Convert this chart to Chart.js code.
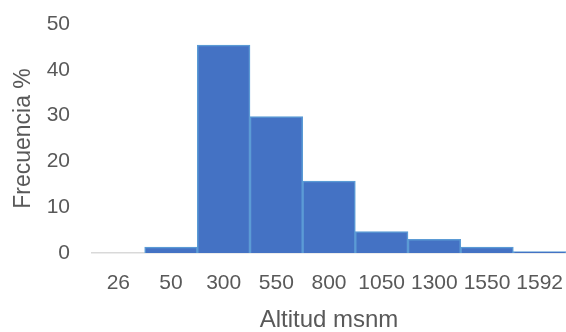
<!DOCTYPE html>
<html>
<head>
<meta charset="utf-8">
<script src="https://cdn.jsdelivr.net/npm/chart.js@4"></script>
<style>
  html, body { margin: 0; padding: 0; background: #ffffff; }
  #wrap { width: 566px; height: 332px; }
</style>
</head>
<body>
<div id="wrap"><canvas id="histChart"></canvas></div>
<script>
// datos
const altitudes = ['26', '50', '300', '550', '800', '1050', '1300', '1550', '1592'];
const frecuencia = [0, 1.3, 45.4, 29.8, 15.7, 4.7, 3.0, 1.3, 0.3];
const yTicks = [0, 10, 20, 30, 40, 50];

const textColor = '#595959';
const fontFamily = "'Liberation Sans', Arial, sans-serif";

document.addEventListener('DOMContentLoaded', function () {
    const ctx = document.getElementById('histChart').getContext('2d');
    new Chart(ctx, {
        type: 'bar',
        data: {
            labels: altitudes,
            datasets: [{
                data: frecuencia,
                backgroundColor: '#4472C4',
                borderColor: '#5B9BD5',
                borderWidth: 1.5,
                borderSkipped: 'bottom',
                barPercentage: 1,
                categoryPercentage: 1
            }]
        },
        options: {
            animation: false,
            responsive: true,
            maintainAspectRatio: false,
            layout: {
                padding: { top: 24, right: 0, left: 0, bottom: 0 }
            },
            plugins: {
                legend: { display: false },
                tooltip: { enabled: false }
            },
            scales: {
                x: {
                    afterFit: function (axis) {
                        axis.height = 79;
                        axis.paddingLeft = 0;
                        axis.paddingRight = 0;
                    },
                    grid: { display: false, drawTicks: false },
                    border: { display: true, color: '#D9D9D9', width: 1.5 },
                    ticks: {
                        color: textColor,
                        font: { family: fontFamily, size: 21 },
                        padding: 18,
                        maxRotation: 0,
                        autoSkip: false
                    },
                    title: {
                        display: true,
                        text: 'Altitud msnm',
                        color: textColor,
                        font: { family: fontFamily, size: 24, lineHeight: 1 },
                        padding: { top: 0, bottom: 0 }
                    }
                },
                y: {
                    min: 0,
                    max: 50,
                    afterBuildTicks: function (axis) {
                        axis.ticks = yTicks.map(v => ({ value: v }));
                    },
                    afterFit: function (axis) {
                        axis.width = 92;
                        axis.paddingTop = 0;
                        axis.paddingBottom = 0;
                    },
                    grid: { display: false, drawTicks: false },
                    border: { display: false },
                    ticks: {
                        color: textColor,
                        font: { family: fontFamily, size: 21 },
                        padding: 22
                    },
                    title: {
                        display: true,
                        text: 'Frecuencia %',
                        color: textColor,
                        font: { family: fontFamily, size: 23 },
                        padding: { top: 10, bottom: 0 }
                    }
                }
            }
        }
    });
});
</script>
</body>
</html>
